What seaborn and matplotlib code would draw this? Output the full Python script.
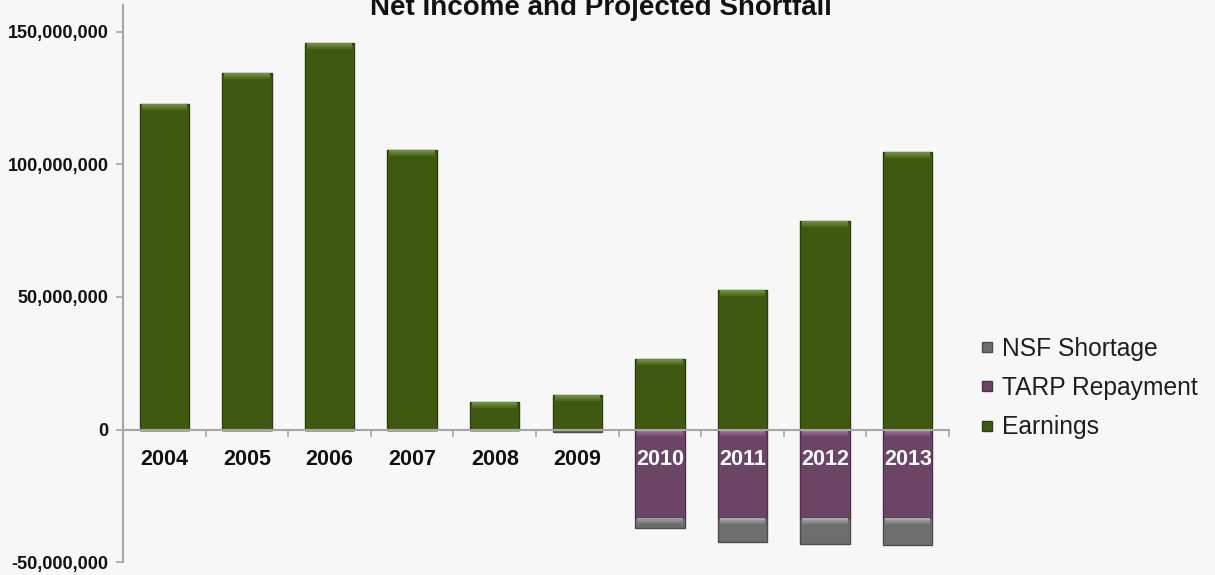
import matplotlib
matplotlib.use("Agg")
import matplotlib.pyplot as plt
from matplotlib.patches import Rectangle
from matplotlib.lines import Line2D
from matplotlib.transforms import ScaledTranslation
from matplotlib.ticker import FuncFormatter, FixedLocator
import numpy as np
import pandas as pd
import seaborn as sns

# ---- data (US dollars) ----
years = ["2004", "2005", "2006", "2007", "2008", "2009", "2010", "2011", "2012", "2013"]
earnings = [122_600_000, 134_300_000, 145_600_000, 105_400_000, 10_500_000,
            13_000_000, 26_500_000, 52_600_000, 78_700_000, 104_700_000]
tarp_repayment = [0, 0, 0, 0, 0, 0, -33_200_000, -33_200_000, -33_200_000, -33_200_000]
nsf_shortage = [0, 0, 0, 0, 0, -1_100_000, -3_900_000, -9_200_000, -10_100_000, -10_200_000]

series_labels = ["NSF Shortage", "TARP Repayment", "Earnings"]
y_ticks = [-50_000_000, 0, 50_000_000, 100_000_000, 150_000_000]
title = "Net Income and Projected Shortfall"

# ---- style ----
BG = "#f7f7f7"
GREEN, GREEN_EDGE, GREEN_HI = "#3f5a10", "#2c410a", "#7a9a45"
PURPLE, PURPLE_EDGE, PURPLE_HI = "#6c4566", "#50304b", "#b07aa6"
GRAY, GRAY_EDGE, GRAY_HI = "#6e6e6e", "#4d4d4d", "#b4b4b4"
AXIS = "#a6a6a6"
TEXT = "#111111"
FONT = ["Liberation Sans", "DejaVu Sans"]

sns.set_theme(style="white")
plt.rcParams["font.family"] = FONT

df = pd.DataFrame({"year": years, "earnings": earnings,
                   "tarp": tarp_repayment, "nsf": nsf_shortage})
df["nsf_base"] = df["tarp"]

fig = plt.figure(figsize=(12.15, 5.75), dpi=100, facecolor=BG)
ax = fig.add_axes([123 / 1215, 1 - 562.2 / 575, (949 - 123) / 1215, (562.2 - 5) / 575])
ax.set_facecolor(BG)

bar_w = 0.6
sns.barplot(data=df, x="year", y="earnings", order=years, color=GREEN,
            width=bar_w, saturation=1, edgecolor=GREEN_EDGE, linewidth=1, ax=ax)
n_green = len(ax.patches)
sns.barplot(data=df, x="year", y="tarp", order=years, color=PURPLE,
            width=bar_w, saturation=1, edgecolor=PURPLE_EDGE, linewidth=1, ax=ax)
n_purple = len(ax.patches)
sns.barplot(data=df, x="year", y="nsf", order=years, color=GRAY,
            width=bar_w, saturation=1, edgecolor=GRAY_EDGE, linewidth=1,
            bottom=df["nsf_base"].to_numpy(), ax=ax)

ax.set_xlim(-0.5, len(years) - 0.5)
ax.set_ylim(-50_000_000, 160_000_000)

# bevel highlight along the upper edge of each bar
px_per_unit = ax.get_window_extent().height / (ax.get_ylim()[1] - ax.get_ylim()[0])
hi_units = 6 / px_per_unit
for i, p in enumerate(list(ax.patches)):
    h = abs(p.get_height())
    if h == 0:
        continue
    hi = GREEN_HI if i < n_green else (PURPLE_HI if i < n_purple else GRAY_HI)
    y_top = max(p.get_y(), p.get_y() + p.get_height())
    band = min(hi_units, 0.5 * h)
    x0, w = p.get_x(), p.get_width()
    for k, a in enumerate([0.85, 0.55, 0.3]):
        frac = band / 3
        ax.add_patch(Rectangle((x0 + w * 0.04, y_top - frac * (k + 1)), w * 0.92, frac,
                               facecolor=hi, edgecolor="none", alpha=a, zorder=p.get_zorder() + 0.1))

# axes: left spine + horizontal baseline at zero
for side in ["top", "right"]:
    ax.spines[side].set_visible(False)
ax.spines["left"].set_color(AXIS)
ax.spines["left"].set_linewidth(1.5)
ax.spines["bottom"].set_position(("data", 0))
ax.spines["bottom"].set_color(AXIS)
ax.spines["bottom"].set_linewidth(1.5)
ax.spines["bottom"].set_zorder(5)

ax.xaxis.set_major_locator(FixedLocator(np.arange(-0.5, len(years), 1.0)))
ax.tick_params(axis="x", which="major", length=5, width=1.2, color=AXIS,
               direction="out", labelbottom=False, bottom=True)
ax.set_yticks(y_ticks)
ax.yaxis.set_major_formatter(FuncFormatter(lambda v, _: f"{int(v):,}"))
ax.tick_params(axis="y", length=5, width=1.2, color=AXIS, direction="out",
               left=True, pad=5.5, labelsize=13, labelcolor=TEXT)
for lab in ax.get_yticklabels():
    lab.set_fontweight("bold")
ax.set_xlabel("")
ax.set_ylabel("")

# year labels sit just under the zero line
offset = ScaledTranslation(0, -0.30, fig.dpi_scale_trans)
for i, yr in enumerate(years):
    color = "white" if tarp_repayment[i] < 0 else TEXT
    ax.text(i, 0, yr, transform=ax.transData + offset, ha="center", va="center",
            fontsize=15.5, fontweight="bold", color=color, zorder=10)

# title (top edge of the canvas)
fig.text(0.495, 0.974, title, ha="center", va="baseline", fontsize=20,
         fontweight="bold", color=TEXT)

# legend
handles = [Line2D([], [], marker="s", linestyle="none", markersize=7,
                  markerfacecolor=c, markeredgecolor=e)
           for c, e in [(GRAY, GRAY_EDGE), (PURPLE, PURPLE_EDGE), (GREEN, GREEN_EDGE)]]
leg = fig.legend(handles, series_labels, loc="center left",
                 bbox_to_anchor=(980 / 1215, 1 - 388 / 575), frameon=False,
                 fontsize=17.7, handlelength=0.6, handletextpad=0.3, labelspacing=0.62,
                 borderaxespad=0, borderpad=0)
for t in leg.get_texts():
    t.set_color("#1e1e1e")

fig.savefig("out.png", dpi=100, facecolor=BG)
